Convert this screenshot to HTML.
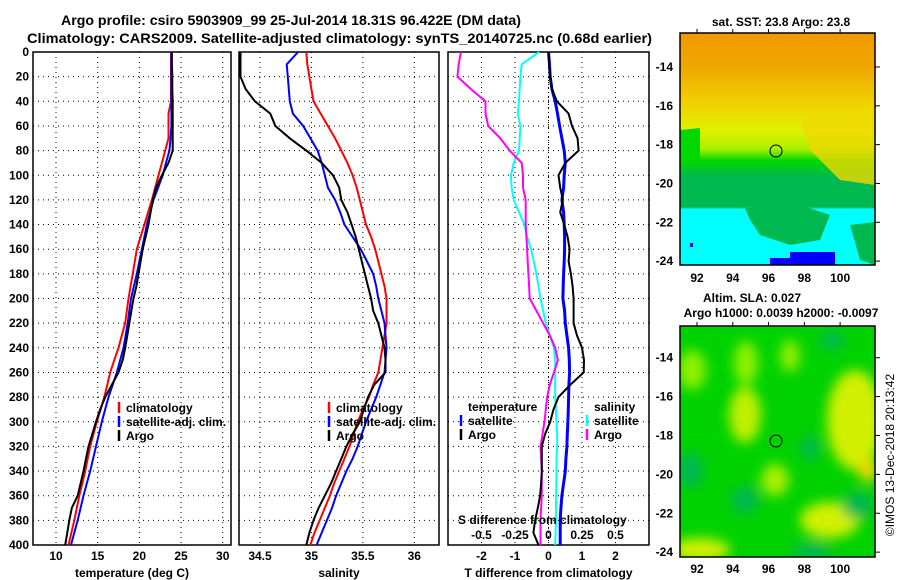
<!DOCTYPE html>
<html><head><meta charset="utf-8"><style>
html,body{margin:0;padding:0;background:#fff}
svg{display:block}
text{font-family:"Liberation Sans",sans-serif;font-weight:bold;fill:#000}
</style></head><body>
<svg id="fig" width="900" height="580" viewBox="0 0 900 580" xmlns="http://www.w3.org/2000/svg">
<text x="61" y="25" font-size="14" textLength="460" lengthAdjust="spacingAndGlyphs">Argo profile: csiro 5903909_99 25-Jul-2014 18.31S 96.422E (DM data)</text>
<text x="27" y="43" font-size="14" textLength="625" lengthAdjust="spacingAndGlyphs">Climatology: CARS2009. Satellite-adjusted climatology: synTS_20140725.nc (0.68d earlier)</text>
<g id="plots"></g>
<g id="maps">
 <defs>
  <linearGradient id="sstg" x1="0" y1="0" x2="0" y2="1">
   <stop offset="0" stop-color="#f09800"/>
   <stop offset="0.15" stop-color="#f0a800"/>
   <stop offset="0.3" stop-color="#f0d000"/>
   <stop offset="0.42" stop-color="#e0f000"/>
   <stop offset="0.5" stop-color="#a8f000"/>
   <stop offset="0.55" stop-color="#00d800"/>
   <stop offset="0.62" stop-color="#00b850"/>
   <stop offset="0.75" stop-color="#00b850"/>
   <stop offset="0.76" stop-color="#00ffff"/>
   <stop offset="1" stop-color="#00ffff"/>
  </linearGradient>
  <clipPath id="c1"><rect x="680" y="33" width="195" height="232"/></clipPath>
  <clipPath id="c2"><rect x="680" y="326" width="195" height="231"/></clipPath>
  <filter id="bl"><feGaussianBlur stdDeviation="6"/></filter>
 </defs>
 <g clip-path="url(#c1)">
  <rect x="680" y="33" width="195" height="232" fill="url(#sstg)"/>
  <polygon points="800,120 875,110 875,185 840,180 810,150" fill="#f0d800" opacity="0.8"/>
  <polygon points="680,130 700,128 700,160 680,165" fill="#00d800"/>
  <polygon points="745,208 800,205 830,215 820,240 790,245 760,235 750,220" fill="#00b850"/>
  <polygon points="850,225 875,222 875,265 860,260" fill="#00b850"/>
  <rect x="790" y="252" width="45" height="13" fill="#0000ff"/>
  <rect x="770" y="258" width="20" height="7" fill="#0000ff"/>
  <rect x="690" y="243" width="3" height="4" fill="#0000ff"/>
 </g>
 <rect x="680" y="33" width="195" height="232" fill="none" stroke="#000" stroke-width="1.5"/>
 <circle cx="776" cy="151" r="6" fill="none" stroke="#000"/>
 <g clip-path="url(#c2)">
  <rect x="680" y="326" width="195" height="231" fill="#00d200"/>
  <g filter="url(#bl)">
   <ellipse cx="692" cy="370" rx="14" ry="20" fill="#90f000"/>
   <ellipse cx="746" cy="363" rx="12" ry="22" fill="#90f000"/>
   <ellipse cx="745" cy="415" rx="16" ry="28" fill="#c0f000"/>
   <ellipse cx="790" cy="356" rx="10" ry="16" fill="#90f000"/>
   <ellipse cx="855" cy="420" rx="28" ry="50" fill="#d0f000"/>
   <ellipse cx="868" cy="470" rx="10" ry="12" fill="#f0d800"/>
   <ellipse cx="775" cy="480" rx="14" ry="16" fill="#a8f000"/>
   <ellipse cx="830" cy="520" rx="30" ry="18" fill="#d0f000"/>
   <ellipse cx="700" cy="550" rx="30" ry="12" fill="#d0f000"/>
   <ellipse cx="690" cy="470" rx="14" ry="18" fill="#00b850"/>
   <ellipse cx="745" cy="500" rx="14" ry="14" fill="#00b850"/>
   <ellipse cx="858" cy="505" rx="16" ry="14" fill="#00b850"/>
   <ellipse cx="812" cy="552" rx="20" ry="10" fill="#00b850"/>
   <ellipse cx="810" cy="448" rx="10" ry="12" fill="#00b850"/>
   <ellipse cx="832" cy="340" rx="12" ry="10" fill="#00b850"/>
  </g>
 </g>
 <rect x="680" y="326" width="195" height="231" fill="none" stroke="#000" stroke-width="1.5"/>
 <circle cx="776" cy="441" r="6" fill="none" stroke="#000"/>
 <text x="781" y="26" font-size="12" text-anchor="middle">sat. SST: 23.8 Argo: 23.8</text>
 <text x="752" y="302" font-size="12" text-anchor="middle">Altim. SLA: 0.027</text>
 <text x="781" y="317" font-size="12" text-anchor="middle">Argo h1000: 0.0039 h2000: -0.0097</text>
 <text transform="translate(894,455) rotate(-90)" font-size="12" text-anchor="middle" style="font-weight:normal">©IMOS 13-Dec-2018 20:13:42</text>
 <g id="mapticks"></g>
</g>
</svg>
<script>
// ---------- data ----------
const depths = [0,10,20,30,40,50,60,70,80,90,100,110,120,130,140,150,160,170,180,190,200,210,220,230,240,250,260,270,280,290,300,310,320,330,340,350,360,370,380,390,400];
const tempArgo = [23.9,23.9,23.95,23.95,24.0,24.0,24.0,24.0,24.0,23.5,22.7,22.0,21.6,21.35,21.1,20.75,20.4,20.15,19.9,19.65,19.3,19.05,18.8,18.55,18.3,18.0,17.5,16.7,15.9,15.3,14.8,14.35,13.9,13.6,13.3,12.95,12.6,11.9,11.6,11.35,11.1];
const tempClim = [23.8,23.8,23.8,23.8,23.8,23.5,23.5,23.5,23.1,22.7,22.3,21.9,21.5,21.05,20.6,20.15,19.7,19.45,19.2,18.95,18.7,18.5,18.3,17.9,17.5,17.0,16.5,16.15,15.8,15.35,14.9,14.5,14.1,13.8,13.5,13.15,12.8,12.5,12.2,11.85,11.5];
const tempSat = [23.85,23.85,23.85,23.85,23.85,23.85,23.85,23.75,23.6,23.2,22.8,22.25,21.7,21.3,20.9,20.6,20.3,20.0,19.7,19.35,19.0,18.8,18.6,18.35,18.1,17.7,17.3,16.8,16.3,15.9,15.5,15.15,14.8,14.45,14.1,13.7,13.3,12.95,12.6,12.2,11.8];
const salArgo = [34.31,34.31,34.31,34.36,34.45,34.60,34.65,34.79,34.95,35.10,35.21,35.27,35.29,35.35,35.39,35.43,35.46,35.49,35.52,35.55,35.58,35.60,35.65,35.68,35.71,35.72,35.72,35.61,35.55,35.51,35.47,35.40,35.34,35.29,35.24,35.19,35.13,35.07,35.02,34.98,34.95];
const salClim = [34.95,34.96,34.98,35.00,35.02,35.09,35.16,35.23,35.29,35.35,35.40,35.44,35.47,35.50,35.53,35.58,35.62,35.65,35.68,35.71,35.73,35.73,35.73,35.71,35.69,35.67,35.65,35.60,35.56,35.50,35.45,35.41,35.37,35.32,35.27,35.22,35.18,35.13,35.08,35.03,34.99];
const salSat = [34.87,34.76,34.77,34.78,34.79,34.82,34.92,34.99,35.06,35.10,35.13,35.16,35.23,35.28,35.32,35.40,35.48,35.54,35.60,35.63,35.65,35.68,35.71,35.72,35.73,35.72,35.71,35.67,35.63,35.58,35.53,35.49,35.45,35.40,35.34,35.29,35.24,35.20,35.15,35.10,35.05];
const dTsat = [0,0.03,0.05,0.1,0.2,0.27,0.33,0.4,0.47,0.5,0.47,0.45,0.4,0.45,0.47,0.48,0.48,0.47,0.45,0.44,0.43,0.48,0.5,0.55,0.6,0.62,0.63,0.61,0.6,0.59,0.58,0.56,0.55,0.52,0.5,0.45,0.4,0.37,0.35,0.35,0.35];
const dTargo = [0,0.02,0.05,0.1,0.25,0.6,0.7,0.87,0.9,0.5,0.3,0.35,0.43,0.35,0.47,0.57,0.63,0.6,0.67,0.72,0.75,0.75,0.75,0.85,1.0,1.06,1.05,0.65,0.3,0.15,0.05,-0.1,-0.2,-0.2,-0.2,-0.22,-0.25,-0.32,-0.4,-0.45,-0.3];
const dSsat = [-0.07,-0.2,-0.21,-0.215,-0.22,-0.23,-0.21,-0.215,-0.22,-0.26,-0.28,-0.275,-0.26,-0.22,-0.18,-0.16,-0.13,-0.11,-0.09,-0.075,-0.06,-0.04,-0.02,0.01,0.04,0.05,0.05,0.05,0.05,0.055,0.06,0.065,0.065,0.06,0.06,0.058,0.057,0.056,0.055,0.053,0.05];
const dSargo = [-0.654,-0.67,-0.68,-0.58,-0.47,-0.47,-0.45,-0.36,-0.29,-0.2,-0.19,-0.19,-0.17,-0.17,-0.17,-0.165,-0.16,-0.155,-0.15,-0.145,-0.14,-0.09,-0.04,0.01,0.05,0.07,0.04,0.01,-0.01,-0.02,-0.03,-0.045,-0.06,-0.055,-0.05,-0.05,-0.05,-0.055,-0.06,-0.06,-0.06];
const depthTicks = [0,20,40,60,80,100,120,140,160,180,200,220,240,260,280,300,320,340,360,380,400];
const tempTicks = [10,15,20,25,30];
const salTicks = [34.5,35,35.5,36];
const dTTicks = [-2,-1,0,1,2];
const dSTicks = [-0.5,-0.25,0,0.25,0.5];
const dSTickLabels = ["-0.5","-0.25","0","0.25","0.5"];
const mapLatTicks = [-14,-16,-18,-20,-22,-24];
const mapLonTicks = [92,94,96,98,100];

// ---------- helpers ----------
const NS = "http://www.w3.org/2000/svg";
const plots = document.getElementById('plots');
function mk(tag, attrs, parent){const e=document.createElementNS(NS,tag);for(const k in attrs)e.setAttribute(k,attrs[k]);(parent||plots).appendChild(e);return e;}
const Y0=52, Y1=545;
const yD = d => Y0 + d/400*(Y1-Y0);
function lin(d0,d1,r0,r1){return v=>r0+(v-d0)/(d1-d0)*(r1-r0);}
const xT = lin(10,30,56,222.7);
const xS = lin(34.5,36,260,414.3);
const xDT = lin(-3,3,448,649);
const xDS = lin(-0.75,0.75,448,649);

function panel(name,x0,x1,xs,ticks,labels,xlabel){
  const g = mk('g',{});
  
  
  depthTicks.forEach(d=>{ if(d>0&&d<400){
    const l=mk('line',{x1:x0,x2:x1,y1:yD(d),y2:yD(d),stroke:'#000','stroke-width':1,'stroke-dasharray':'1 4'},g);
    
    
  }});
  ticks.forEach((t,i)=>{
    const l=mk('line',{x1:xs(t),x2:xs(t),y1:Y0,y2:Y1,stroke:'#000','stroke-width':1,'stroke-dasharray':'1 4'},g);
    
    
    const tx=mk('text',{x:xs(t),y:560,'font-size':12,'text-anchor':'middle'},g);
    tx.textContent=labels[i];
    
    
  });
  const f=mk('rect',{x:x0,y:Y0,width:x1-x0,height:Y1-Y0,fill:'none',stroke:'#000','stroke-width':1.5},g);
  
  
  const xl=mk('text',{x:(x0+x1)/2,y:577,'font-size':12,'text-anchor':'middle'},g);
  xl.textContent=xlabel;
  
  
  return g;
}
function series(g,name,vals,xs,color,w){
  const pts=vals.map((v,i)=>xs(v).toFixed(1)+','+yD(depths[i]).toFixed(1)).join(' ');
  const p=mk('polyline',{points:pts,fill:'none',stroke:color,'stroke-width':w||2},g);
  
  
}
function legend(g,items,x,y){
  items.forEach((it,i)=>{
    if(it.color){
      const m=mk('line',{x1:x,x2:x,y1:y+i*14-10,y2:y+i*14+1,stroke:it.color,'stroke-width':2.5},g);
      
      
    }
    const t=mk('text',{x:x+7,y:y+i*14,'font-size':12},g);
    t.textContent=it.label;
    
    
  });
}

// y tick labels
depthTicks.forEach(d=>{
  const t=mk('text',{x:29,y:yD(d)+4,'font-size':12,'text-anchor':'end'});
  t.textContent=d;
  
  
});

const g1=panel('temperature-panel',33,231,xT,tempTicks,tempTicks.map(String),'temperature (deg C)');
series(g1,'temp-climatology-line',tempClim,xT,'#ff0000');
series(g1,'temp-satellite-line',tempSat,xT,'#0000ff');
series(g1,'temp-argo-line',tempArgo,xT,'#000000');
legend(g1,[{label:'climatology',color:'#ff0000'},{label:'satellite-adj. clim.',color:'#0000ff'},{label:'Argo',color:'#000'}],119,412);

const g2=panel('salinity-panel',239,439,xS,salTicks,salTicks.map(String),'salinity');
series(g2,'sal-climatology-line',salClim,xS,'#ff0000');
series(g2,'sal-satellite-line',salSat,xS,'#0000ff');
series(g2,'sal-argo-line',salArgo,xS,'#000000');
legend(g2,[{label:'climatology',color:'#ff0000'},{label:'satellite-adj. clim.',color:'#0000ff'},{label:'Argo',color:'#000'}],329,412);

const g3=panel('difference-panel',448,649,xDT,dTTicks,dTTicks.map(String),'T difference from climatology');
const zl=mk('line',{x1:xDT(0),x2:xDT(0),y1:Y0,y2:Y1,stroke:'#000','stroke-dasharray':'1 3'},g3);


series(g3,'dS-satellite-line',dSsat,xDS,'#00ffff');
series(g3,'dS-argo-line',dSargo,xDS,'#ff00ff');
series(g3,'dT-satellite-line',dTsat,xDT,'#0000ff',3);
series(g3,'dT-argo-line',dTargo,xDT,'#000000');
legend(g3,[{label:'temperature'},{label:'satellite',color:'#0000ff'},{label:'Argo',color:'#000'}],461,411);
legend(g3,[{label:'salinity'},{label:'satellite',color:'#00ffff'},{label:'Argo',color:'#ff00ff'}],587,411);
const st=mk('text',{x:458,y:524,'font-size':12},g3);
st.textContent='S difference from climatology';


dSTicks.forEach((s,i)=>{
  const t=mk('text',{x:xDS(s),y:539,'font-size':12,'text-anchor':'middle'},g3);
  t.textContent=dSTickLabels[i];
  
  
});

// map ticks
const mt=document.getElementById('mapticks');
const lonX = lin(91.05,101.95,680,875);
[[33,-12.25,265,-24.2,272],[326,-12.37,557,-24.25,563]].forEach(m=>{
  const latY=lin(m[1],m[3],m[0],m[2]);
  mapLatTicks.forEach(la=>{
    const t=mk('text',{x:673,y:latY(la)+4,'font-size':12,'text-anchor':'end'},mt);
    t.textContent=la;
    
    
    mk('line',{x1:875,x2:880,y1:latY(la),y2:latY(la),stroke:'#000'},mt);
  });
  mapLonTicks.forEach(lo=>{
    const t=mk('text',{x:lonX(lo),y:m[4]+10,'font-size':12,'text-anchor':'middle'},mt);
    t.textContent=lo;
    
    
    mk('line',{x1:lonX(lo),x2:lonX(lo),y1:m[0]-4,y2:m[0],stroke:'#000'},mt);
  });
});
</script>
</body></html>
